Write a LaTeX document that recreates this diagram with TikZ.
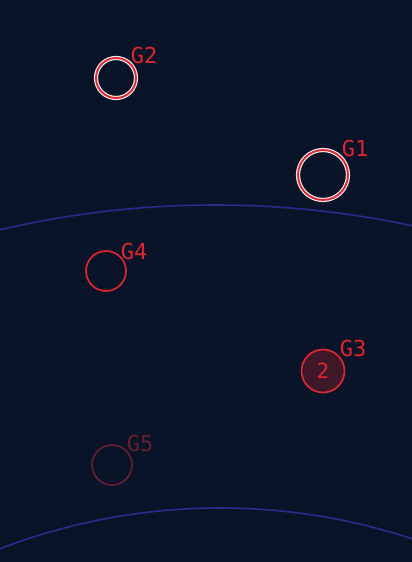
\documentclass[tikz,border=0pt]{standalone}
\usepackage{fontspec}
\setmonofont{DejaVu Sans Mono}
\definecolor{bgnavy}{RGB}{10,20,40}
\definecolor{arcblue}{RGB}{42,44,140}
\definecolor{ringred}{RGB}{222,38,48}
\definecolor{dimred}{RGB}{104,30,50}
\definecolor{fillred}{RGB}{62,24,40}
\definecolor{ringwhite}{RGB}{238,232,236}
\tikzset{
  glabel/.style={inner sep=0pt, text=ringred, font=\ttfamily\fontsize{22}{22}\selectfont},
  ring/.style={circle, inner sep=0pt, draw=ringred, line width=1.7pt},
  haloring/.style={circle, inner sep=0pt, draw=ringred, line width=1.8pt,
    preaction={draw=ringwhite, line width=4.2pt}},
}
\begin{document}
\begin{tikzpicture}[x=1pt, y=-1pt]
  % background
  \fill[bgnavy] (0,0) rectangle (412,562);
  \useasboundingbox (0,0) rectangle (412,562);

  % the two big arcs
  \begin{scope}
    \clip (0,0) rectangle (412,562);
    \draw[arcblue, line width=1.6pt] (215,1142) circle[radius=937];
    \draw[arcblue, line width=1.6pt] (220,1119) circle[radius=611];
  \end{scope}

  % G1 and G2, ringed in white
  \node[haloring, minimum size=50pt] (g1) at (323,175) {};
  \node[glabel] (g1l) at (355,148) {G1};
  \node[haloring, minimum size=40pt] (g2) at (116,78) {};
  \node[glabel] (g2l) at (144,55) {G2};

  % G4, plain ring
  \node[ring, minimum size=40pt] (g4) at (106,271) {};
  \node[glabel] (g4l) at (134,251) {G4};

  % G3, filled, with count
  \node[ring, fill=fillred, minimum size=43pt, text=ringred,
    font=\ttfamily\fontsize{21}{21}\selectfont] (g3) at (323,371) {2};
  \node[glabel] (g3l) at (353,348) {G3};

  % G5, dimmed
  \node[ring, draw=dimred, minimum size=40pt] (g5) at (112,465) {};
  \node[glabel, text=dimred] (g5l) at (140,443) {G5};
\end{tikzpicture}
\end{document}
